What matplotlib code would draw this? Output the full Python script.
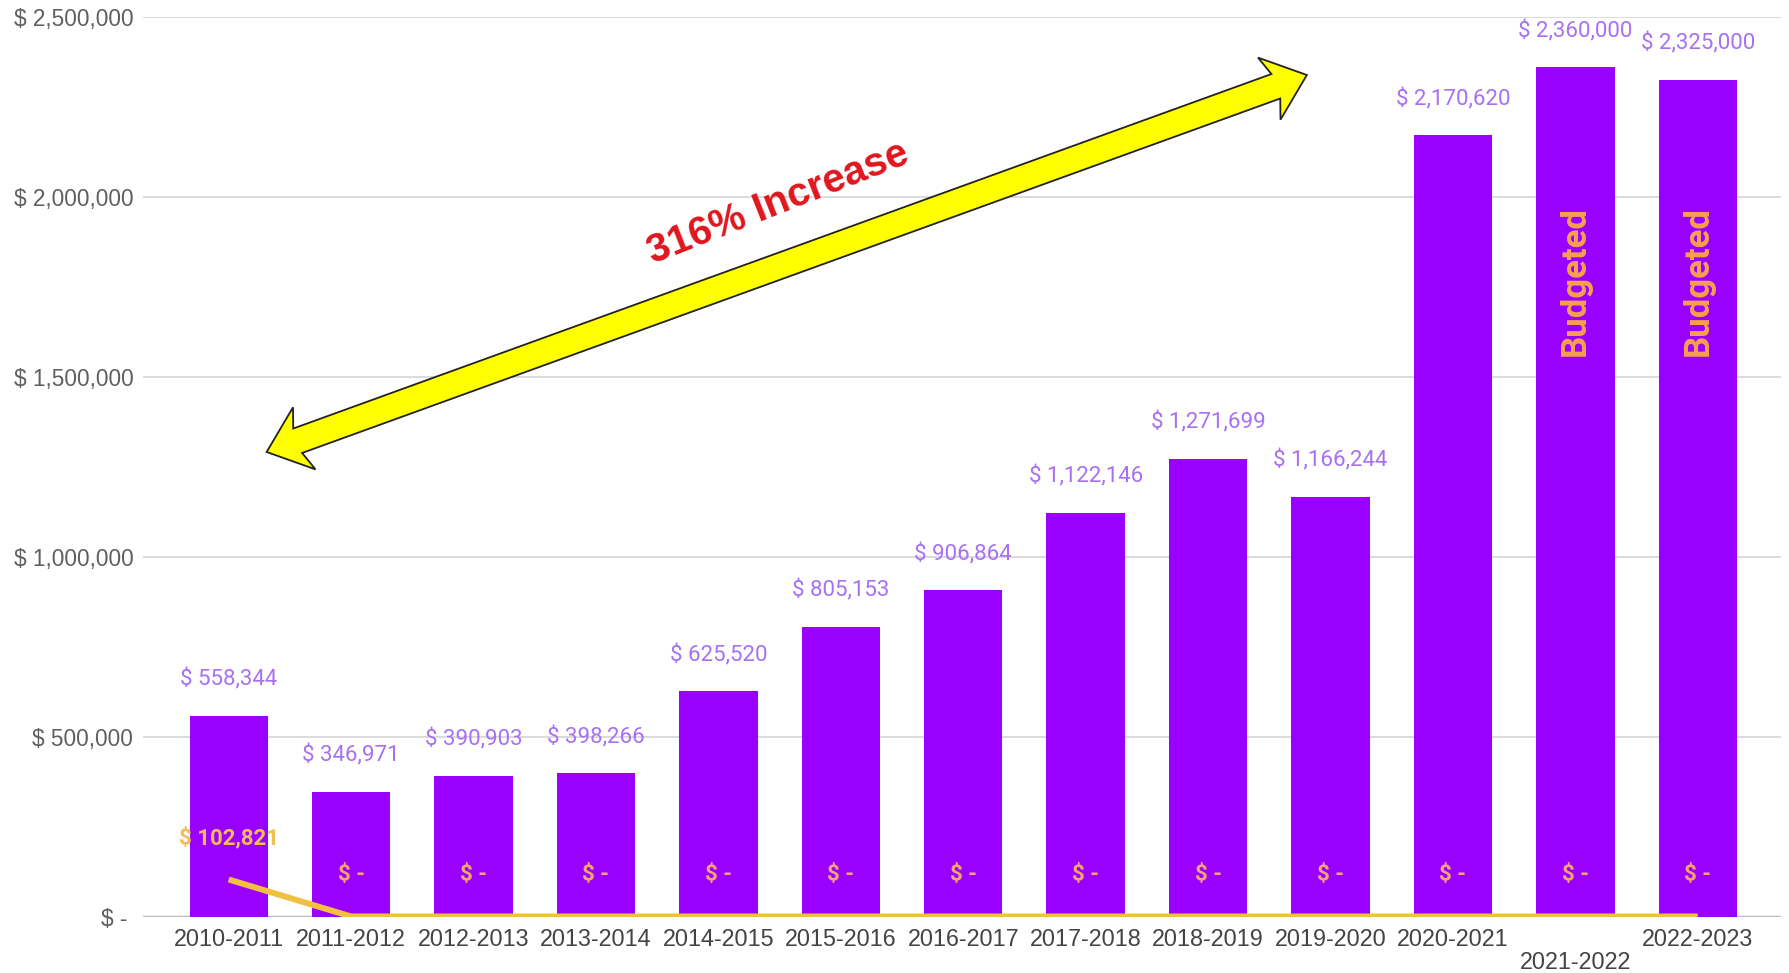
import numpy as np
import matplotlib
matplotlib.use("Agg")
import matplotlib.pyplot as plt
from matplotlib.patches import Polygon
from matplotlib.transforms import ScaledTranslation

## Data
years = ["2010-2011", "2011-2012", "2012-2013", "2013-2014", "2014-2015",
         "2015-2016", "2016-2017", "2017-2018", "2018-2019", "2019-2020",
         "2020-2021", "2021-2022", "2022-2023"]
spending = [558344, 346971, 390903, 398266, 625520, 805153, 906864,
            1122146, 1271699, 1166244, 2170620, 2360000, 2325000]
other = [102821, 0, 0, 0, 0, 0, 0, 0, 0, 0, 0, 0, 0]
budgeted = [False] * 11 + [True, True]
yticks = [0, 500000, 1000000, 1500000, 2000000, 2500000]

def money(v):
    return "$ -" if v == 0 else "$ {:,}".format(v)

## Colours
BAR = "#9900FF"
BAR_LBL = "#A870F2"
LINE = "#F1C040"
LINE_LBL = "#F4A66A"
FIRST_LBL = "#F2BE4F"

fig = plt.figure(figsize=(17.89, 9.73), dpi=100)
ax = fig.add_axes([143/1789, 1 - 916.5/973, (1781 - 143)/1789, (916.5 - 16.7)/973])

x = np.arange(len(years))
ax.bar(x, spending, width=0.64, color=BAR, zorder=2)
ax.plot(x, other, color=LINE, lw=4.3, zorder=3, solid_capstyle="butt")

for xi, v in zip(x, spending):
    ax.annotate(money(v), (xi, v), xytext=(0, 26), textcoords="offset points",
                ha="center", va="center", fontsize=16, color=BAR_LBL,
                family="Roboto", zorder=5)

for xi, v in zip(x, other):
    c = FIRST_LBL if v else LINE_LBL
    ax.annotate(money(v), (xi, v), xytext=(0, 30), textcoords="offset points",
                ha="center", va="center", fontsize=16, color=c,
                family="Roboto", fontweight="bold", zorder=5)

for xi, b in zip(x, budgeted):
    if b:
        ax.text(xi, 1766000, "Budgeted", rotation=90, ha="center", va="center",
                fontsize=25, color="#F6A04D", family="Roboto",
                fontweight="bold", zorder=5)

ax.set_xlim(-0.7, 12.68)
ax.set_ylim(0, 2500000)
ax.set_yticks(yticks)
ax.set_yticklabels([money(v) + (" " if v == 0 else "") for v in yticks],
                   family="Liberation Sans", fontsize=16.3, color="#5f5f5f")
ax.set_xticks(x)
ax.set_xticklabels(years, family="Liberation Sans", fontsize=16.8, color="#444444")
ax.tick_params(axis="both", length=0)
ax.tick_params(axis="y", pad=7)
ax.tick_params(axis="x", pad=8.5)
# Sheets pushes the 2021-2022 label down a row
lbl = ax.get_xticklabels()[11]
lbl.set_transform(lbl.get_transform() + ScaledTranslation(0, -0.23, fig.dpi_scale_trans))

for s in ax.spines.values():
    s.set_visible(False)
ax.grid(axis="y", color="#d4d4d4", lw=1.2, zorder=0)
ax.axhline(0, color="#555555", lw=1.6, zorder=1)

## Double-headed yellow arrow, built in pixel space
tipA = ax.transData.transform((0.31, 1290600))
tipB = ax.transData.transform((8.807, 2338000))
u = (tipB - tipA) / np.hypot(*(tipB - tipA))
n = np.array([-u[1], u[0]])
w, h, L, Ln = 13, 33, 40, 33
pts = [tipA,
       tipA + L*u + h*n, tipA + Ln*u + w*n,
       tipB - Ln*u + w*n, tipB - L*u + h*n,
       tipB,
       tipB - L*u - h*n, tipB - Ln*u - w*n,
       tipA + Ln*u - w*n, tipA + L*u - h*n]
pts = ax.transData.inverted().transform(np.array(pts))
ax.add_patch(Polygon(pts, closed=True, facecolor="#FFFF00", edgecolor="#222222",
                     lw=1.3, zorder=4, clip_on=False))

ax.text(4.485, 1982000, "316% Increase", rotation=21.5, ha="center", va="center",
        fontsize=29, color="#E0161E", family="Liberation Sans",
        fontweight="bold", zorder=5, rotation_mode="anchor")

fig.savefig("out.png", dpi=100)
